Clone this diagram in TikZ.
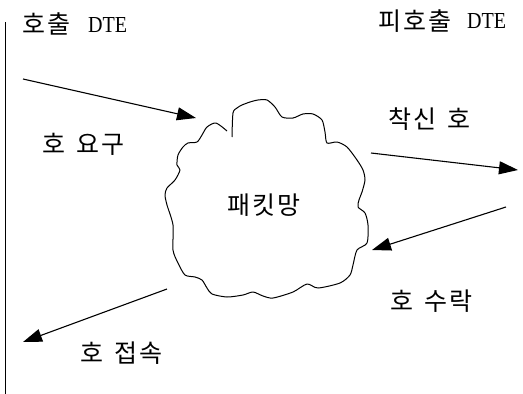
\documentclass[tikz,border=0pt]{standalone}
\usepackage{fontspec}
\newfontfamily\kr[LetterSpace=8]{Noto Sans CJK KR}
\newfontfamily\dtefont{Liberation Serif}
\usetikzlibrary{arrows.meta}
\newcommand\krgap{\hspace{11pt}}
\newcommand\dtetext{\resizebox{39pt}{15pt}{\dtefont DTE}}
\tikzset{
  lbl/.style={inner sep=0pt, anchor=west, font=\kr\fontsize{25}{28}\selectfont},
  dte/.style={inner sep=0pt, anchor=west},
  arr/.style={-{Triangle[length=19pt,width=13pt]}, line width=1.1pt},
  cloudline/.style={line width=1pt, line join=round}
}
\begin{document}
\begin{tikzpicture}[x=1pt,y=-1pt]
\useasboundingbox (0,0) rectangle (523,394);
% left boundary line
\coordinate (vtop) at (5,22);
\coordinate (vbot) at (5,394);
\draw[line width=1pt] (vtop) -- (vbot);
% titles
\node[lbl] (caller) at (22,24) {호출};
\node[dte] (callerdte) at (88,25) {\dtetext};
\node[lbl] (callee) at (378,21) {피호출};
\node[dte] (calleedte) at (467,21) {\dtetext};
% cloud
\draw[cloudline] plot[smooth,tension=0.45] coordinates {
(232,137) (233,113) (237,108) (242,105) (250,102) (258,100) (267,100) (275,107)
(282,117) (293,118) (303,114) (313,114) (322,120) (325,132) (327,143) (337,142)
(347,147) (357,160) (363,170) (365,180) (362,192) (359,200) (358,207) (365,213)
(368,225) (367,243) (357,250) (353,265) (350,275) (340,283) (318,288) (307,284)
(293,292) (273,298) (263,296) (253,292) (243,295) (227,297) (212,294) (207,288)
(202,280) (195,277) (185,275) (178,263) (173,250) (173,225) (167,205) (165,195)
(167,188) (175,180) (180,170) (177,165) (178,155) (183,147) (188,143) (197,142)
(202,135) (207,127) (216,123) (227,131)};
\node[lbl, anchor=center] (net) at (264,205) {패킷망};
% labels
\node[lbl] (req) at (42,144) {호\krgap 요구};
\node[lbl] (inc) at (388,119) {착신\krgap 호};
\node[lbl] (acc) at (390,301) {호\krgap 수락};
\node[lbl] (con) at (80,353) {호\krgap 접속};
% arrows
\coordinate (a1s) at (23,79);   \coordinate (a1e) at (196,118);
\coordinate (a2s) at (371,153); \coordinate (a2e) at (518,170);
\coordinate (a3s) at (506,207); \coordinate (a3e) at (372,250);
\coordinate (a4s) at (167,289); \coordinate (a4e) at (23,342);
\draw[arr] (a1s) -- (a1e);
\draw[arr] (a2s) -- (a2e);
\draw[arr] (a3s) -- (a3e);
\draw[arr] (a4s) -- (a4e);
\end{tikzpicture}
\end{document}
